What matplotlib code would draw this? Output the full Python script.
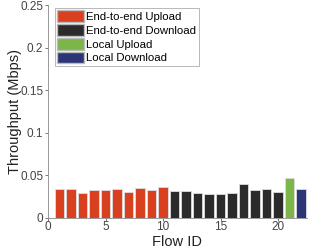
import matplotlib
matplotlib.use("Agg")
import matplotlib.pyplot as plt
from matplotlib.patches import Patch

plt.rcParams['font.family'] = ['Liberation Sans', 'DejaVu Sans']

flow_ids = list(range(1, 23))
throughput = [0.0345, 0.0337, 0.029, 0.0325, 0.033, 0.0337, 0.031, 0.035, 0.0333, 0.036,
              0.0313, 0.032, 0.0294, 0.0278, 0.0278, 0.0294, 0.0397, 0.033, 0.0337, 0.031,
              0.0472, 0.034]
groups = ["End-to-end Upload"] * 10 + ["End-to-end Download"] * 10 + ["Local Upload", "Local Download"]
group_colors = {
    "End-to-end Upload": "#d8401f",
    "End-to-end Download": "#2b2b2b",
    "Local Upload": "#7cb648",
    "Local Download": "#2c3576",
}
yticks = [0, 0.05, 0.1, 0.15, 0.2, 0.25]
ytick_labels = ["0", "0.05", "0.1", "0.15", "0.2", "0.25"]
xticks = [0, 5, 10, 15, 20]

fig = plt.figure(figsize=(3.1, 2.5), dpi=100)
ax = fig.add_axes([0.155, 0.128, 0.835, 0.852])
ax.bar(flow_ids, throughput, width=0.82, color=[group_colors[g] for g in groups],
       edgecolor="#dddddd", linewidth=0.6)
ax.set_xlim(0, 22.5)
ax.set_ylim(0, 0.25)
ax.set_yticks(yticks)
ax.set_yticklabels(ytick_labels)
ax.set_xticks(xticks)
ax.tick_params(labelsize=8.5, length=2, width=0.5, colors="#444444", direction="out")
ax.tick_params(axis="x", pad=0.5)
ax.tick_params(axis="y", pad=1.5)
for s in ["top", "right"]:
    ax.spines[s].set_visible(False)
for s in ["left", "bottom"]:
    ax.spines[s].set_color("#888888")
    ax.spines[s].set_linewidth(0.6)
ax.set_xlabel("Flow ID", fontsize=10.5, color="#222222")
ax.set_ylabel("Throughput (Mbps)", fontsize=10.5, color="#222222")
ax.xaxis.set_label_coords(0.5, -0.08)
ax.yaxis.set_label_coords(-0.10, 0.5)

handles = [Patch(facecolor=c, edgecolor="#bbbbbb", label=g) for g, c in group_colors.items()]
leg = ax.legend(handles=handles, loc="upper left", bbox_to_anchor=(0.025, 0.985), fontsize=8.2,
                frameon=True, fancybox=False, edgecolor="#999999", handlelength=2.4,
                handleheight=1.2, handletextpad=0.2, borderpad=0.2, labelspacing=0.18,
                borderaxespad=0.0)
leg.get_frame().set_linewidth(0.6)

fig.savefig("out.png", dpi=100)
